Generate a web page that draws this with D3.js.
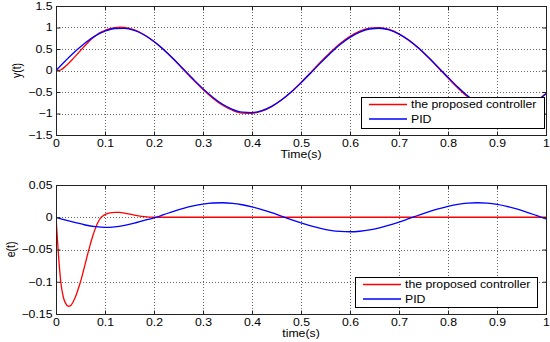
<!DOCTYPE html>
<html>
<head>
<meta charset="utf-8">
<script src="https://cdn.jsdelivr.net/npm/d3@7"></script>
<style>
  body { margin: 0; background: #fff; }
  text { font-family: "Liberation Sans", Arial, sans-serif; fill: #000; }
</style>
</head>
<body>
<svg id="chart" width="550" height="342"></svg>
<script>
// ---- data ----
const xTicks = [0, 0.1, 0.2, 0.3, 0.4, 0.5, 0.6, 0.7, 0.8, 0.9, 1];
const xTickLabels = ["0", "0.1", "0.2", "0.3", "0.4", "0.5", "0.6", "0.7", "0.8", "0.9", "1"];
const yTicksTop = [-1.5, -1, -0.5, 0, 0.5, 1, 1.5];
const yTickLabelsTop = ["\u22121.5", "\u22121", "\u22120.5", "0", "0.5", "1", "1.5"];
const yTicksBottom = [-0.15, -0.1, -0.05, 0, 0.05];
const yTickLabelsBottom = ["\u22120.15", "\u22120.1", "\u22120.05", "0", "0.05"];
const seriesNames = ["the proposed controller", "PID"];

// proposed controller, sampled finer at the start where it moves fast
const tProp = [0, 0.005, 0.01, 0.015, 0.02, 0.025, 0.03, 0.035, 0.04, 0.045, 0.05, 0.055, 0.06, 0.065, 0.07, 0.075, 0.08, 0.085, 0.09,
  0.1, 0.11, 0.12, 0.13, 0.14,
  0.16, 0.18, 0.2, 0.22, 0.24, 0.26, 0.28, 0.3, 0.32, 0.34, 0.36, 0.38, 0.4, 0.42, 0.44, 0.46, 0.48, 0.5, 0.52, 0.54, 0.56, 0.58,
  0.6, 0.62, 0.64, 0.66, 0.68, 0.7, 0.72, 0.74, 0.76, 0.78, 0.8, 0.82, 0.84, 0.86, 0.88, 0.9, 0.92, 0.94, 0.96, 0.98, 1];
const yProp = [0, 0.002, 0.018, 0.055, 0.104, 0.158, 0.215, 0.277, 0.339, 0.402, 0.465, 0.527, 0.588, 0.647, 0.703, 0.754, 0.801, 0.843, 0.880,
  0.936, 0.976, 0.999, 1.008, 1.000,
  0.943, 0.832, 0.676, 0.481, 0.260, 0.022, -0.217, -0.443, -0.644, -0.809, -0.924, -0.989, -0.996, -0.946, -0.841, -0.688, -0.498, -0.279, -0.043, 0.196, 0.423, 0.629,
  0.794, 0.916, 0.984, 0.999, 0.956, 0.855, 0.706, 0.518, 0.300, 0.065, -0.174, -0.405, -0.612, -0.781, -0.906, -0.981, -0.999, -0.962, -0.869, -0.722, -0.537];
const eProp = [0, -0.058, -0.102, -0.124, -0.134, -0.138, -0.137, -0.131, -0.123, -0.112, -0.1, -0.086, -0.071, -0.056, -0.042, -0.029, -0.018, -0.009, -0.002,
  0.004, 0.0068, 0.0077, 0.0076, 0.0065,
  0.0033, 0.001, 0.0001, 0, 0, 0, 0, 0, 0, 0, 0, 0, 0, 0, 0, 0, 0, 0, 0, 0, 0, 0,
  0, 0, 0, 0, 0, 0, 0, 0, 0, 0, 0, 0, 0, 0, 0, 0, 0, 0, 0, 0, 0];

// PID
const tPID = [0, 0.02, 0.04, 0.06, 0.08, 0.1, 0.12, 0.14, 0.16, 0.18, 0.2, 0.22, 0.24, 0.26, 0.28, 0.3, 0.32, 0.34, 0.36, 0.38, 0.4,
  0.42, 0.44, 0.46, 0.48, 0.5, 0.52, 0.54, 0.56, 0.58, 0.6, 0.62, 0.64, 0.66, 0.68, 0.7, 0.72, 0.74, 0.76, 0.78, 0.8,
  0.82, 0.84, 0.86, 0.88, 0.9, 0.92, 0.94, 0.96, 0.98, 1];
const yPID = [0, 0.233, 0.453, 0.647, 0.805, 0.916, 0.977, 0.981, 0.931, 0.826, 0.675,
  0.485, 0.269, 0.035, -0.199, -0.422, -0.622, -0.786, -0.902, -0.969, -0.980,
  -0.934, -0.834, -0.686, -0.502, -0.288, -0.057, 0.178, 0.403, 0.607, 0.771,
  0.894, 0.965, 0.983, 0.943, 0.847, 0.703, 0.521, 0.309, 0.078, -0.157,
  -0.385, -0.590, -0.759, -0.885, -0.961, -0.982, -0.949, -0.861, -0.719, -0.539];
const ePID = [0, -0.0045, -0.0085, -0.012, -0.0145, -0.0158, -0.015, -0.0125, -0.009, -0.0048, -0.001,
  0.004, 0.0092, 0.0138, 0.0176, 0.0204, 0.0221, 0.0225, 0.0216, 0.0194, 0.0162,
  0.012, 0.0071, 0.0018, -0.0036, -0.0087, -0.0134, -0.0173, -0.0203, -0.022, -0.0225,
  -0.0217, -0.0197, -0.0165, -0.0124, -0.0076, -0.0023, 0.0031, 0.0083, 0.013, 0.017,
  0.0201, 0.0219, 0.0225, 0.0218, 0.0199, 0.0169, 0.0128, 0.0081, 0.0028, -0.0026];

// ---- drawing ----
const svg = d3.select("#chart");
const SX = 1.17;          // the source image is stretched sideways; text follows it
const FS = "10.5px";
const colors = ["#ff0000", "#0000ff"];
const left = 56, right = 546;

function stretchText(sel) {
  sel.style("font-size", FS).attr("transform", `scale(${SX},1)`);
}

function panel(o) {
  const x = d3.scaleLinear().domain([0, 1]).range([left, right]);
  const y = d3.scaleLinear().domain([o.yTicks[0], o.yTicks[o.yTicks.length - 1]]).range([o.bottom, o.top]);
  const g = svg.append("g");

  // dotted grid
  g.append("g").selectAll("line").data(xTicks.slice(1, -1)).join("line")
    .attr("x1", d => Math.round(x(d)) + 0.5).attr("x2", d => Math.round(x(d)) + 0.5)
    .attr("y1", o.top).attr("y2", o.bottom)
    .attr("stroke", "#666").attr("stroke-dasharray", "1,2");
  g.append("g").selectAll("line").data(o.yTicks.slice(1, -1)).join("line")
    .attr("y1", d => Math.round(y(d)) + 0.5).attr("y2", d => Math.round(y(d)) + 0.5)
    .attr("x1", left).attr("x2", right)
    .attr("stroke", "#666").attr("stroke-dasharray", "1,2");

  // data lines
  const clipId = "clip" + o.top;
  svg.append("clipPath").attr("id", clipId).append("rect")
    .attr("x", left).attr("y", o.top).attr("width", right - left).attr("height", o.bottom - o.top);
  const line = d3.line().x(d => x(d[0])).y(d => y(d[1])).curve(d3.curveMonotoneX);
  o.series.forEach((s, i) => {
    g.append("path")
      .datum(s.t.map((t, j) => [t, s.v[j]]))
      .attr("clip-path", `url(#${clipId})`)
      .attr("fill", "none").attr("stroke", colors[i]).attr("stroke-width", 1.3)
      .attr("d", line);
  });

  // axes, ticks pointing inward on all four sides
  const xa = g.append("g").attr("transform", `translate(0,${o.bottom + 0.5})`)
    .call(d3.axisBottom(x).tickValues(xTicks).tickFormat((d, i) => xTickLabels[i]).tickSize(-4).tickPadding(4));
  const ya = g.append("g").attr("transform", `translate(${left + 0.5},0)`)
    .call(d3.axisLeft(y).tickValues(o.yTicks).tickFormat((d, i) => o.yTickLabels[i]).tickSize(-4).tickPadding(4));
  g.append("g").attr("transform", `translate(0,${o.top + 0.5})`)
    .call(d3.axisTop(x).tickValues(xTicks).tickFormat("").tickSize(-4));
  g.append("g").attr("transform", `translate(${right + 0.5},0)`)
    .call(d3.axisRight(y).tickValues(o.yTicks).tickFormat("").tickSize(-4));
  g.selectAll(".domain").remove();
  g.selectAll(".tick line").attr("stroke", "#222");
  xa.selectAll("text").call(stretchText);
  ya.selectAll("text").attr("x", -4 / SX).call(stretchText);

  g.append("rect")
    .attr("x", left + 0.5).attr("y", o.top + 0.5)
    .attr("width", right - left).attr("height", o.bottom - o.top)
    .attr("fill", "none").attr("stroke", "#222");

  // axis labels
  g.append("text")
    .attr("transform", `translate(${(left + right) / 2},${o.xLabelY}) scale(${SX},1)`)
    .attr("text-anchor", "middle").style("font-size", FS)
    .text(o.xLabel);
  g.append("text")
    .attr("transform", `translate(${o.yLabelX},${(o.top + o.bottom) / 2}) scale(${SX},1) rotate(-90)`)
    .attr("text-anchor", "middle").attr("dy", "0.35em").style("font-size", FS)
    .text(o.yLabel);

  // legend
  const L = o.legend;
  const lg = g.append("g");
  lg.append("rect").attr("x", L.x + 0.5).attr("y", L.y + 0.5).attr("width", L.w).attr("height", L.h)
    .attr("fill", "#fff").attr("stroke", "#000");
  seriesNames.forEach((name, i) => {
    const ly = L.y + 7.5 + i * 14.5;
    lg.append("line").attr("x1", L.x + 8).attr("x2", L.x + 46)
      .attr("y1", ly).attr("y2", ly).attr("stroke", colors[i]).attr("stroke-width", 1.3);
    lg.append("text")
      .attr("transform", `translate(${L.x + 50},${ly}) scale(${SX},1)`)
      .attr("dy", "0.35em").style("font-size", FS)
      .text(name);
  });
}

panel({
  top: 6, bottom: 135,
  yTicks: yTicksTop, yTickLabels: yTickLabelsTop,
  series: [{ t: tProp, v: yProp }, { t: tPID, v: yPID }],
  xLabel: "Time(s)", xLabelY: 158,
  yLabel: "y(t)", yLabelX: 16.5,
  legend: { x: 361, y: 97, w: 183, h: 31 }
});

panel({
  top: 185, bottom: 314,
  yTicks: yTicksBottom, yTickLabels: yTickLabelsBottom,
  series: [{ t: tProp, v: eProp }, { t: tPID, v: ePID }],
  xLabel: "time(s)", xLabelY: 337,
  yLabel: "e(t)", yLabelX: 10.5,
  legend: { x: 355, y: 277, w: 182, h: 30 }
});
</script>
</body>
</html>
